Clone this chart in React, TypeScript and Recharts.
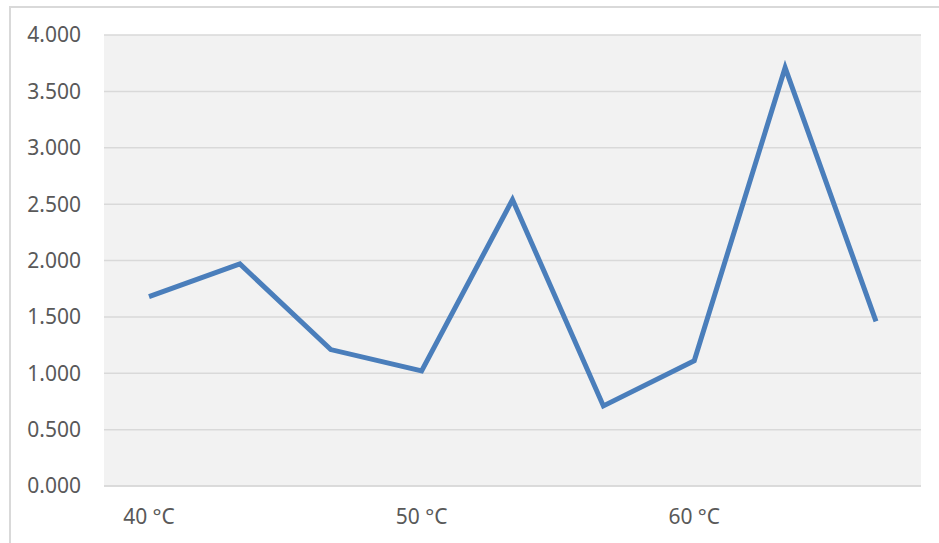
import { CartesianGrid, Line, LineChart, XAxis, YAxis } from 'recharts'

const categories = ['40 °C', '', '', '50 °C', '', '', '60 °C', '', '']
const values = [1.68, 1.97, 1.21, 1.02, 2.54, 0.71, 1.11, 3.71, 1.46]
const yTicks = [0, 0.5, 1, 1.5, 2, 2.5, 3, 3.5, 4]

const data = categories.map((cat, i) => ({ id: i, cat, value: values[i] }))

const font = { fill: '#595959', fontSize: 21, fontFamily: '"Noto Sans", sans-serif' }

export default function App() {
  return (
    <div style={{ position: 'absolute', left: 0, top: 0, width: 939, height: 543, overflow: 'hidden', background: '#fff' }}>
      <div
        style={{
          position: 'absolute',
          left: 9,
          top: 6,
          width: 960,
          height: 560,
          border: '2px solid #d9d9d9',
        }}
      />
      <LineChart
        width={939}
        height={543}
        data={data}
        margin={{ top: 35, right: 18, bottom: 0, left: 0 }}
        style={{ position: 'absolute', left: 0, top: 0 }}
      >
        <CartesianGrid vertical={false} fill="#f2f2f2" stroke="#d9d9d9" strokeWidth={1.5} />
        <XAxis
          dataKey="id"
          tickFormatter={(i) => categories[i]}
          interval={0}
          padding={{ left: 45, right: 45 }}
          axisLine={{ stroke: '#d9d9d9', strokeWidth: 1.5 }}
          tickLine={false}
          tickSize={0}
          tickMargin={23}
          tick={font}
          height={57}
        />
        <YAxis
          domain={[0, 4]}
          ticks={yTicks}
          tickFormatter={(v) => v.toFixed(3)}
          axisLine={false}
          tickLine={false}
          tickSize={0}
          tickMargin={23}
          tick={font}
          width={104}
        />
        <Line
          type="linear"
          dataKey="value"
          stroke="#4a7ebb"
          strokeWidth={5}
          dot={false}
          isAnimationActive={false}
        />
      </LineChart>
    </div>
  )
}
